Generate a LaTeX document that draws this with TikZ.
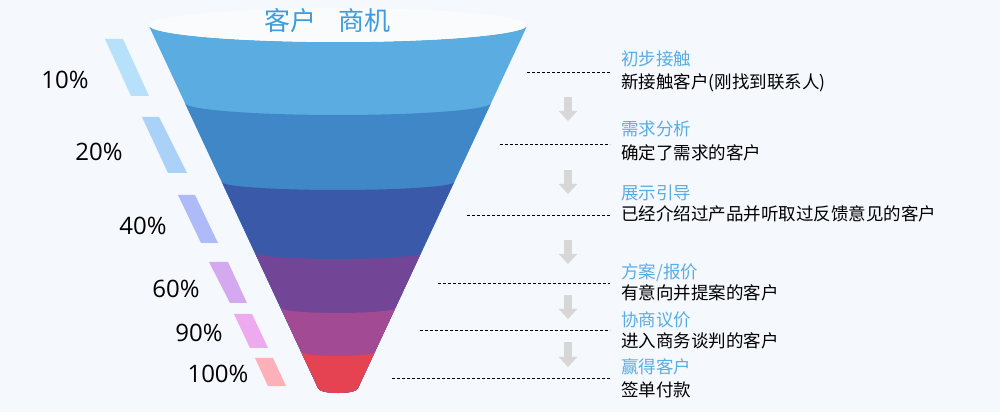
\documentclass[tikz,border=0pt]{standalone}
\usepackage{fontspec}
\setmainfont{Open Sans}
\newfontfamily\cjk{Noto Sans CJK SC}
\usetikzlibrary{arrows.meta}
\definecolor{bg}{HTML}{F5F8FD}
\definecolor{topc}{HTML}{FAFBFC}
\definecolor{cA}{HTML}{5BADE1}
\definecolor{cB}{HTML}{4087C7}
\definecolor{cC}{HTML}{3A59A8}
\definecolor{cD}{HTML}{724596}
\definecolor{cE}{HTML}{A24B94}
\definecolor{cF}{HTML}{E54352}
\definecolor{sA}{HTML}{B7E1FA}
\definecolor{sB}{HTML}{AAD1F8}
\definecolor{sC}{HTML}{AEBBF8}
\definecolor{sD}{HTML}{D5A9F0}
\definecolor{sE}{HTML}{EEAAEE}
\definecolor{sF}{HTML}{FEB0B9}
\definecolor{ttl}{HTML}{3D9CDF}
\definecolor{lbl}{HTML}{5AADE3}
\definecolor{arw}{HTML}{D7D7D7}
\begin{document}
\begin{tikzpicture}[x=1pt,y=1pt,
  pct/.style={font=\fontsize{24}{24}\selectfont, inner sep=0pt, text=black},
  headtxt/.style={font=\cjk\fontsize{17.5}{18}\selectfont, text=lbl, anchor=west, inner sep=0pt},
  desctxt/.style={font=\cjk\fontsize{17.5}{18}\selectfont, text=black, anchor=west, inner sep=0pt},
  leader/.style={draw=black, line width=0.7pt, dash pattern=on 3pt off 2pt},
  downarrow/.style={draw=arw, line width=8pt, -{Triangle[width=18pt,length=10pt]}}]
\useasboundingbox (0,0) rectangle (1000,412);
\fill[bg] (0,0) rectangle (1000,412);

% funnel bands (each drawn from its top boundary down to the funnel bottom)
\foreach \t/\dt/\c in {25/17/cA,103/12/cB,182/8/cC,253/6/cD,308/5/cE,352/4/cF}{
  \pgfmathsetmacro\wt{189.5-0.467*(\t-25)}
  \pgfmathsetmacro\wb{189.5-0.467*(388-25)}
  \pgfmathsetmacro\yt{412-\t}
  \pgfmathsetmacro\yb{412-388}
  \fill[\c] (338-\wt,\yt) -- (338-\wb,\yb) arc[start angle=180,end angle=360,x radius=\wb,y radius=5]
     -- (338+\wt,\yt) arc[start angle=0,end angle=-180,x radius=\wt,y radius=\dt] -- cycle;
}
% top surface
\fill[topc] (338,387) ellipse[x radius=189.5, y radius=17];
\node[font=\cjk\fontsize{26}{26}\selectfont, text=ttl, inner sep=0pt] (title) at (327,391) {客户\hspace{22pt}商机};

% left stripes
\fill[sA] (105,373) -- (123,373) -- (149,316) -- (131,316) -- cycle;
\fill[sB] (142,295) -- (159,295) -- (187,239) -- (168,239) -- cycle;
\fill[sC] (178,217) -- (195,217) -- (218,169) -- (201,169) -- cycle;
\fill[sD] (209,150) -- (228,150) -- (247,109) -- (230,109) -- cycle;
\fill[sE] (234,98) -- (252,98) -- (268,64) -- (250,64) -- cycle;
\fill[sF] (255,54) -- (273,54) -- (286,26) -- (268,26) -- cycle;

% percentages
\node[pct] (p1) at (65,332) {10\%};
\node[pct] (p2) at (99,260) {20\%};
\node[pct] (p3) at (143,186) {40\%};
\node[pct] (p4) at (176,123) {60\%};
\node[pct] (p5) at (199,79) {90\%};
\node[pct] (p6) at (218,38) {100\%};

% right labels
\node[headtxt] (h1) at (621,353) {初步接触};
\node[desctxt] (d1) at (621,329) {新接触客户(刚找到联系人)};
\node[headtxt] (h2) at (621,283) {需求分析};
\node[desctxt] (d2) at (621,259) {确定了需求的客户};
\node[headtxt] (h3) at (621,219) {展示引导};
\node[desctxt] (d3) at (621,198) {已经介绍过产品并听取过反馈意见的客户};
\node[headtxt] (h4) at (621,139) {方案/报价};
\node[desctxt] (d4) at (621,119) {有意向并提案的客户};
\node[headtxt] (h5) at (621,92) {协商议价};
\node[desctxt] (d5) at (621,71) {进入商务谈判的客户};
\node[headtxt] (h6) at (621,45) {赢得客户};
\node[desctxt] (d6) at (621,22) {签单付款};

% leader lines
\coordinate (l1a) at (527,340); \coordinate (l1b) at (610,340);
\coordinate (l2a) at (500,268); \coordinate (l2b) at (610,268);
\coordinate (l3a) at (467,197); \coordinate (l3b) at (610,197);
\coordinate (l4a) at (438,129); \coordinate (l4b) at (610,129);
\coordinate (l5a) at (420,82);  \coordinate (l5b) at (610,82);
\coordinate (l6a) at (392,34);  \coordinate (l6b) at (610,34);
\foreach \i in {1,...,6}{\draw[leader] (l\i a) -- (l\i b);}

% down arrows
\coordinate (a1a) at (568,315); \coordinate (a1b) at (568,291);
\coordinate (a2a) at (568,242); \coordinate (a2b) at (568,218);
\coordinate (a3a) at (568,172); \coordinate (a3b) at (568,148);
\coordinate (a4a) at (568,117); \coordinate (a4b) at (568,93);
\coordinate (a5a) at (568,70);  \coordinate (a5b) at (568,45);
\foreach \i in {1,...,5}{\draw[downarrow] (a\i a) -- (a\i b);}
\end{tikzpicture}
\end{document}
